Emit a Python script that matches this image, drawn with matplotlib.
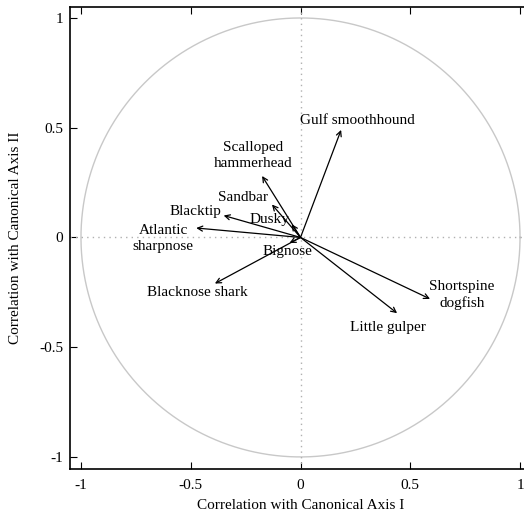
import numpy as np
import matplotlib
matplotlib.use("Agg")
from matplotlib import pyplot as plt

# correlations of each species with the two canonical axes
species = ["Gulf smoothhound", "Scalloped\nhammerhead", "Sandbar", "Blacktip",
           "Atlantic\nsharpnose", "Dusky", "Bignose", "Blacknose shark",
           "Shortspine\ndogfish", "Little gulper"]
axis1 = [0.185, -0.175, -0.13, -0.35, -0.475, -0.04, -0.05, -0.39, 0.59, 0.44]
axis2 = [0.49, 0.28, 0.15, 0.10, 0.043, 0.06, -0.025, -0.21, -0.28, -0.345]
label_x = [0.26, -0.215, -0.26, -0.48, -0.625, -0.14, -0.06, -0.47, 0.735, 0.40]
label_y = [0.535, 0.373, 0.18, 0.116, -0.005, 0.084, -0.066, -0.25, -0.26, -0.41]

plt.rcParams['font.family'] = ['Liberation Serif', 'DejaVu Serif']

fig = plt.figure(figsize=(5.24, 5.14), dpi=100)
ax = fig.add_axes([70 / 524, 45 / 514, 461 / 524, 462 / 514])

theta = np.linspace(0, 2 * np.pi, 400)
ax.plot(np.cos(theta), np.sin(theta), color='#c8c8c8', lw=1)
ax.axhline(0, color='#b0b0b0', lw=1, ls=(0, (1, 3)))
ax.axvline(0, color='#b0b0b0', lw=1, ls=(0, (1, 3)))

for x, y in zip(axis1, axis2):
    ax.annotate("", xy=(x, y), xytext=(0, 0),
                arrowprops=dict(arrowstyle='->', color='black', lw=0.9,
                                shrinkA=0, shrinkB=0, mutation_scale=9))

for name, x, y in zip(species, label_x, label_y):
    ax.text(x, y, name, ha='center', va='center', fontsize=11,
            linespacing=1.3)

ax.set_xlim(-1.05, 1.05)
ax.set_ylim(-1.055, 1.05)
ax.set_xticks([-1, -0.5, 0, 0.5, 1])
ax.set_yticks([-1, -0.5, 0, 0.5, 1])
ax.set_xticklabels(["-1", "-0.5", "0", "0.5", "1"])
ax.set_yticklabels(["-1", "-0.5", "0", "0.5", "1"])
ax.tick_params(direction='in', top=True, right=True, length=5, labelsize=11)
ax.tick_params(axis='x', pad=7)
ax.tick_params(axis='y', pad=5)
for s in ax.spines.values():
    s.set_linewidth(1.2)

ax.set_xlabel("Correlation with Canonical Axis I", fontsize=11, labelpad=5)
ax.set_ylabel("Correlation with Canonical Axis II", fontsize=11, labelpad=12)

fig.savefig("out.png", dpi=100)
